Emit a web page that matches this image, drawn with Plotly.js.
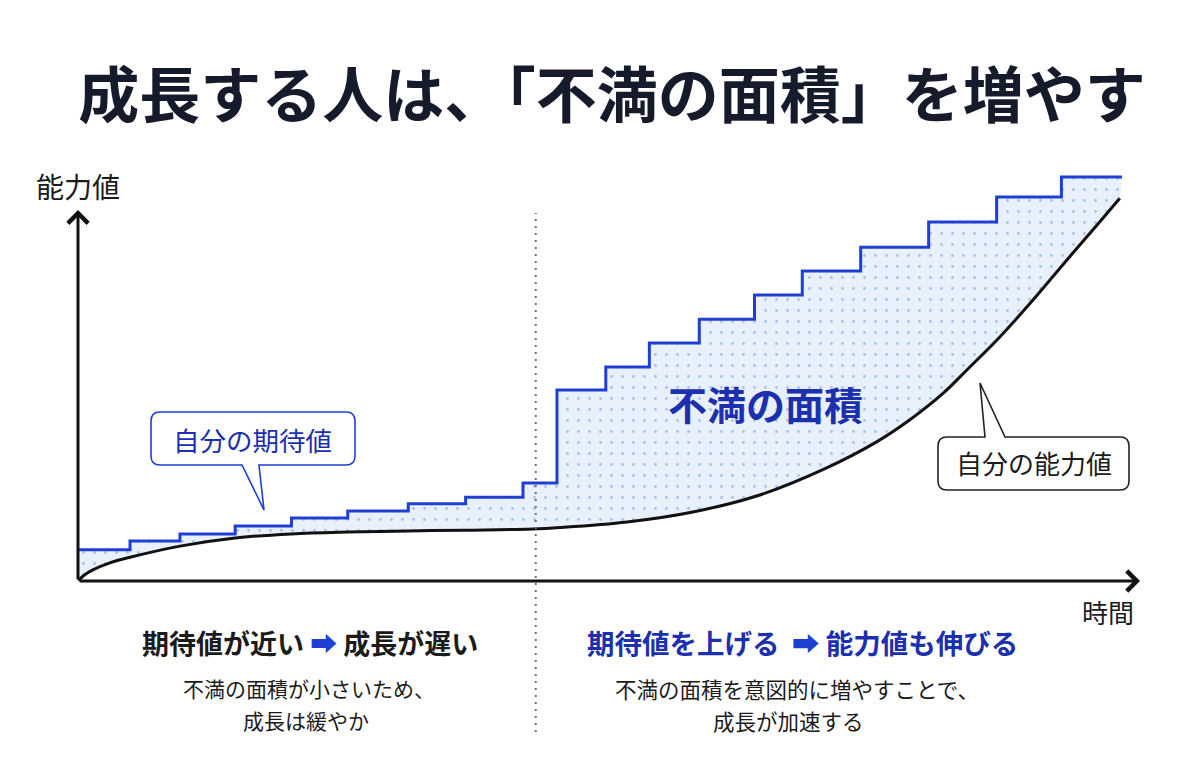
<!DOCTYPE html>
<html><head><meta charset="utf-8">
<script src="https://cdn.plot.ly/plotly-3.0.1.min.js"></script>
<style>html,body{margin:0;padding:0;background:#fff;}#chart{width:1200px;height:777px;}</style>
</head><body><div id="chart"></div>
<script>
// ---- data ----
const timeSteps   = [0, 4.9, 9.6, 14.8, 20.1, 25.4, 31.1, 36.5, 41.9, 45.1, 49.7, 53.8, 58.5, 63.7, 68.2, 73.7, 80.1, 86.5, 92.6, 98.3];
const expectation = [8.4, 10.8, 12.7, 14.8, 17.0, 18.9, 20.8, 22.6, 26.4, 51.5, 57.7, 64.2, 70.6, 77.1, 83.6, 90.0, 96.8, 103.5, 108.9, 108.9];
const timeCurve   = [0, 0.6, 1.4, 3.0, 4.9, 9.6, 14.8, 20.1, 25.4, 31.1, 36.5, 42.8, 45.4, 51.7, 57.9, 64.2, 70.5, 75.2, 78.3, 81.5, 83.7, 86.8, 89.9, 93.1, 96.2, 98.1];
const ability     = [0, 1.6, 3.0, 4.9, 6.4, 9.4, 11.6, 12.7, 13.2, 13.5, 13.7, 14.0, 14.4, 15.9, 18.6, 23.2, 30.5, 37.5, 43.4, 50.7, 56.9, 65.8, 75.7, 86.5, 96.8, 103.2];
const dividerTime = 43.1;

const titleText   = '成長する人は、「不満の面積」を増やす';
const yAxisLabel  = '能力値';
const xAxisLabel  = '時間';
const expectLabel = '自分の期待値';
const abilityLabel= '自分の能力値';
const gapLabel    = '不満の面積';
const leftHead    = ['期待値が近い', '成長が遅い'];
const leftSub     = ['不満の面積が小さいため、', '成長は緩やか'];
const rightHead   = ['期待値を上げる', '能力値も伸びる'];
const rightSub    = ['不満の面積を意図的に増やすことで、', '成長が加速する'];

// ---- style ----
const FONT = "'Noto Sans CJK JP', 'Noto Sans', sans-serif";
const BLUE_LINE = '#1e3fd2';
const BLUE_TEXT = '#1c2fae';
const INK = '#1b1b1b';

// pixel -> paper helpers (plot area: left 78, bottom 581, 1062 x 408)
const PL = 78, PB = 581, PW = 1062, PH = 408;
const px = x => (x - PL) / PW;
const py = y => (PB - y) / PH;

function bubbleBottomTail(l, t, r, b, R, b1, b2, tx, ty) {
  const P = (x, y) => px(x).toFixed(5) + ',' + py(y).toFixed(5);
  return 'M' + P(l+R,t) + ' L' + P(r-R,t) + ' Q' + P(r,t) + ' ' + P(r,t+R) +
         ' L' + P(r,b-R) + ' Q' + P(r,b) + ' ' + P(r-R,b) +
         ' L' + P(b2,b) + ' L' + P(tx,ty) + ' L' + P(b1,b) +
         ' L' + P(l+R,b) + ' Q' + P(l,b) + ' ' + P(l,b-R) +
         ' L' + P(l,t+R) + ' Q' + P(l,t) + ' ' + P(l+R,t) + ' Z';
}
function bubbleTopTail(l, t, r, b, R, b1, b2, tx, ty) {
  const P = (x, y) => px(x).toFixed(5) + ',' + py(y).toFixed(5);
  return 'M' + P(l+R,t) + ' L' + P(b1,t) + ' L' + P(tx,ty) + ' L' + P(b2,t) +
         ' L' + P(r-R,t) + ' Q' + P(r,t) + ' ' + P(r,t+R) +
         ' L' + P(r,b-R) + ' Q' + P(r,b) + ' ' + P(r-R,b) +
         ' L' + P(l+R,b) + ' Q' + P(l,b) + ' ' + P(l,b-R) +
         ' L' + P(l,t+R) + ' Q' + P(l,t) + ' ' + P(l+R,t) + ' Z';
}

const traces = [
  { x: timeCurve, y: ability, mode: 'lines', line: {width: 0, shape: 'spline', smoothing: 1, color: 'rgba(0,0,0,0)'}, hoverinfo: 'skip' },
  { x: timeSteps, y: expectation, mode: 'lines', line: {width: 0, shape: 'hv', color: 'rgba(0,0,0,0)'},
    fill: 'tonexty', fillcolor: '#e8f0fc',
    fillpattern: {shape: '.', bgcolor: '#e8f0fc', fgcolor: '#a9c0e8', size: 11, solidity: 0.05}, hoverinfo: 'skip' },
  { x: timeCurve, y: ability, mode: 'lines', line: {width: 3, shape: 'spline', smoothing: 1, color: '#111'}, hoverinfo: 'skip' },
  { x: timeSteps, y: expectation, mode: 'lines', line: {width: 3, shape: 'hv', color: BLUE_LINE}, hoverinfo: 'skip' }
];

function txt(text, x, y, size, color, bold) {
  return { text: bold ? '<b>' + text + '</b>' : text, xref: 'paper', yref: 'paper', x: px(x), y: py(y),
           xanchor: 'center', yanchor: 'middle', showarrow: false,
           font: {family: FONT, size: size, color: color} };
}
const arrowSpan = c => "<span style='color:" + c + "'>➡</span>";

const annotations = [
  // axes with arrowheads
  { x: 100, y: 0, ax: 0, ay: 0, xref: 'x', yref: 'y', axref: 'x', ayref: 'y', text: '', showarrow: true,
    arrowhead: 4, arrowsize: 1.3, arrowwidth: 3, arrowcolor: '#111' },
  { x: 0, y: 100, ax: 0, ay: 0, xref: 'x', yref: 'y', axref: 'x', ayref: 'y', text: '', showarrow: true,
    arrowhead: 4, arrowsize: 1.3, arrowwidth: 3, arrowcolor: '#111' },
  txt(yAxisLabel, 78, 186, 28, INK, false),
  txt(xAxisLabel, 1108, 611, 26, INK, false),
  txt(expectLabel, 252, 439, 26.5, BLUE_TEXT, false),
  txt(abilityLabel, 1034, 463, 26, INK, false),
  txt(gapLabel, 765, 403, 39, BLUE_TEXT, true),
  txt(leftHead[0] + ' ' + arrowSpan(BLUE_LINE) + ' ' + leftHead[1], 310, 642, 27, INK, true),
  txt(leftSub[0], 309, 688, 21, INK, false),
  txt(leftSub[1], 306, 720, 21, INK, false),
  txt(rightHead[0] + '  ' + arrowSpan(BLUE_LINE) + ' ' + rightHead[1], 802, 642, 27.5, BLUE_TEXT, true),
  txt(rightSub[0], 797, 688, 21.5, INK, false),
  txt(rightSub[1], 788, 720, 21.5, INK, false)
];

const shapes = [
  { type: 'line', xref: 'x', yref: 'paper', x0: dividerTime, x1: dividerTime, y0: py(732), y1: py(213),
    line: {color: '#6b6f7a', width: 2, dash: '2px,5px'}, layer: 'above' },
  { type: 'path', xref: 'paper', yref: 'paper', layer: 'above',
    path: bubbleBottomTail(151, 412, 355, 465, 9, 242, 259, 264, 510),
    fillcolor: '#ffffff', line: {color: BLUE_LINE, width: 1.6} },
  { type: 'path', xref: 'paper', yref: 'paper', layer: 'above',
    path: bubbleTopTail(938, 437, 1129, 490, 9, 985, 1005, 980, 383),
    fillcolor: '#ffffff', line: {color: '#222', width: 1.6} }
];

const layout = {
  width: 1200, height: 777,
  margin: {l: PL, r: 60, t: 173, b: 196, pad: 0},
  paper_bgcolor: '#ffffff', plot_bgcolor: 'rgba(0,0,0,0)',
  showlegend: false,
  title: { text: '<b>' + titleText + '</b>', x: 612/1200, xanchor: 'center', y: 1 - 97/777, yanchor: 'middle',
           font: {family: FONT, size: 61, color: '#161b2c'} },
  xaxis: {range: [0, 100], visible: false, fixedrange: true},
  yaxis: {range: [0, 110], visible: false, fixedrange: true},
  annotations: annotations,
  shapes: shapes
};

Plotly.newPlot('chart', traces, layout, {displayModeBar: false, staticPlot: true});
</script></body></html>
